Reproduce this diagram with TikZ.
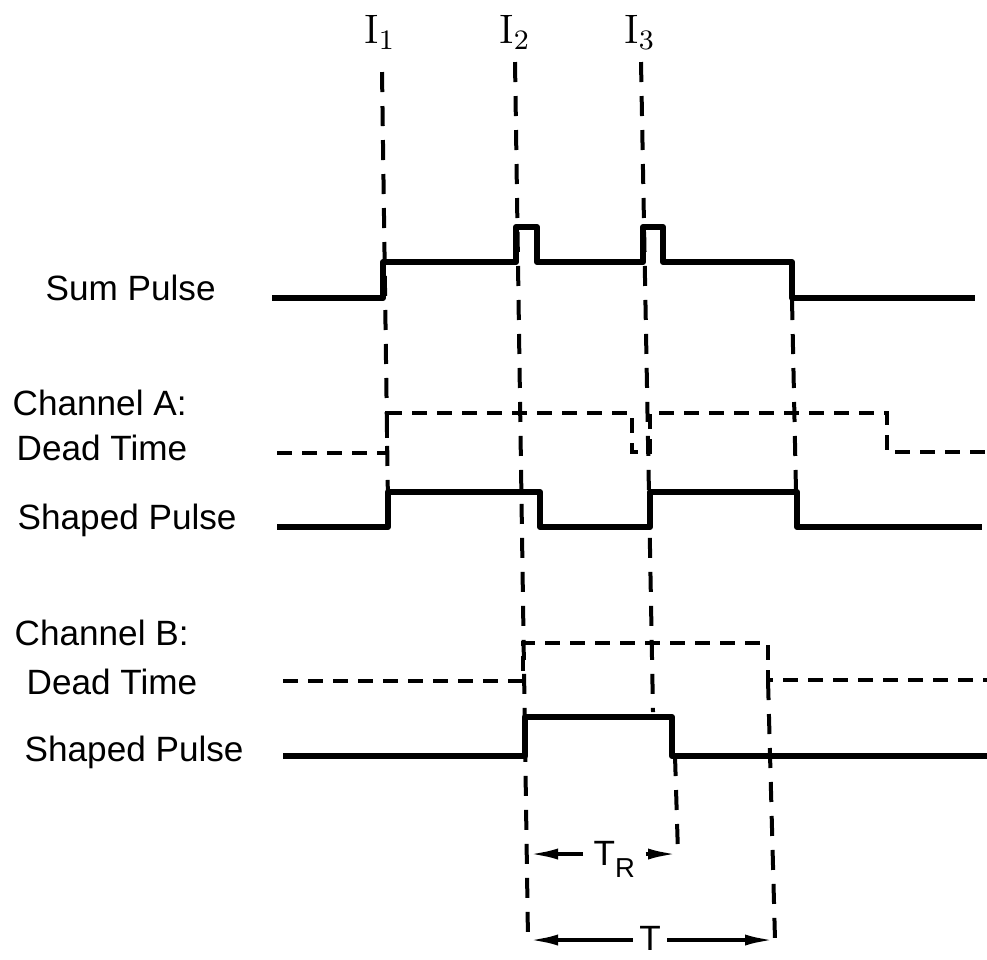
\documentclass[tikz,border=0pt]{standalone}
\usepackage{fontspec}
\setsansfont{Liberation Sans}
\usetikzlibrary{arrows.meta}
\newcommand{\LB}{\fontsize{10}{12}\selectfont\sffamily}
\newcommand{\LI}{\fontsize{11.7}{14}\selectfont}

\begin{document}
\begin{tikzpicture}[x=0.1mm,y=-0.1mm]
\tikzstyle{texto}=[draw=none,fill=none,black,font=\LB,anchor=west,inner sep=0pt]
\tikzstyle{marker}=[draw=none,fill=none,black,font=\LI,anchor=base,inner sep=0pt]
\tikzstyle{dimlabel}=[draw=none,fill=none,black,font=\LB]
\tikzstyle{pulse}=[black,line width=0.6mm,line join=round]
\tikzstyle{dead}=[black,line width=0.4mm,dash pattern=on 1.5mm off 1mm]
\tikzstyle{guide}=[black,line width=0.4mm,dash pattern=on 2mm off 1.4mm]
\tikzstyle{dimarrow}=[black,line width=0.4mm,-{Latex[length=3mm,width=1.1mm]}]

\useasboundingbox (0,0) rectangle (987,959);

% signal names
\node[texto] (lblSum)    at (45,288)  {Sum Pulse};
\node[texto] (lblChA)    at (12,403)  {Channel A:};
\node[texto] (lblDeadA)  at (16,448)  {Dead Time};
\node[texto] (lblShapeA) at (17,520)  {Shaped Pulse};
\node[texto] (lblChB)    at (14,633)  {Channel B:};
\node[texto] (lblDeadB)  at (26,682)  {Dead Time};
\node[texto] (lblShapeB) at (24,752)  {Shaped Pulse};

% input markers
\node[marker] (I1) at (380,43) {$\mathrm{I}_1$};
\node[marker] (I2) at (515,43) {$\mathrm{I}_2$};
\node[marker] (I3) at (640,43) {$\mathrm{I}_3$};

% guide ends
\coordinate (i1t) at (382,72);  \coordinate (i1b) at (388,505);
\coordinate (i2t) at (515,62);  \coordinate (i2b) at (528,940);
\coordinate (i3t) at (641,62);  \coordinate (i3b) at (653,712);
\coordinate (sft) at (792,300); \coordinate (sfb) at (796,492);
\coordinate (dbt) at (768,680); \coordinate (dbb) at (775,940);
\coordinate (sbt) at (675,756); \coordinate (sbb) at (678,854);
\coordinate (trl) at (528,854);

\draw[guide] (i1t) -- (i1b);
\draw[guide] (i2t) -- (i2b);
\draw[guide] (i3t) -- (i3b);
\draw[guide] (sft) -- (sfb);
\draw[guide] (dbt) -- (dbb);
\draw[guide] (sbt) -- (sbb);

% sum pulse
\draw[pulse] (272,298) -- (383,298) -- (383,262) -- (516,262) -- (516,227)
  -- (537,227) -- (537,262) -- (643,262) -- (643,227) -- (663,227)
  -- (663,262) -- (792,262) -- (792,298) -- (975,298);

% channel A
\draw[dead] (277,453) -- (387,453) -- (387,413) -- (632,413) -- (632,452)
  -- (650,452) -- (650,413) -- (887,413) -- (887,452) -- (987,452);
\draw[pulse] (277,527) -- (388,527) -- (388,492) -- (540,492) -- (540,527)
  -- (650,527) -- (650,492) -- (797,492) -- (797,527) -- (982,527);

% channel B
\draw[dead] (283,681) -- (523,681) -- (523,643) -- (768,643) -- (768,680)
  -- (987,680);
\draw[pulse] (283,756) -- (525,756) -- (525,717) -- (672,717) -- (672,756)
  -- (987,756);

% times
\node[dimlabel,anchor=base west,inner sep=1mm] (TR) at (583,865)
  {T\raisebox{-1.2mm}{\fontsize{7.8}{9}\selectfont R}};
\draw[dimarrow] (TR.west |- trl) -- (trl);
\draw[dimarrow] (TR.east |- sbb) -- (sbb);

\node[dimlabel,inner sep=0.6mm] (T) at (650,938) {T};
\draw[dimarrow] (T.west |- i2b) -- (i2b);
\draw[dimarrow] (T.east |- dbb) -- (dbb);
\end{tikzpicture}
\end{document}
